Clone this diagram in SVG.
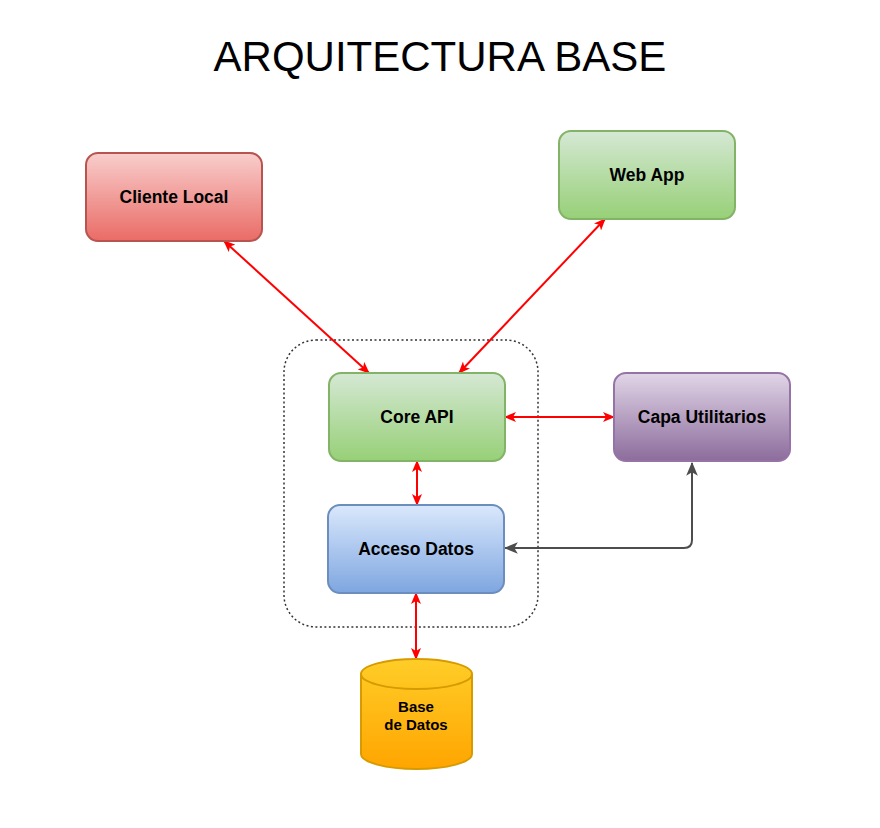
<svg xmlns="http://www.w3.org/2000/svg" width="880" height="828" viewBox="0 0 880 828">
<style>
.lbl{font-family:"Liberation Sans",Arial,sans-serif;font-weight:bold;font-size:17.5px;fill:#000;text-anchor:middle}
.sm{font-size:15px}
.title{font-family:"Liberation Sans",Arial,sans-serif;font-size:42px;fill:#000;text-anchor:middle}
.red{stroke:#ff0000;stroke-width:2;fill:none}
.gray{stroke:#4d4d4d;stroke-width:2;fill:none}
</style>
<defs>
<linearGradient id="gRed" x1="0" y1="0" x2="0" y2="1"><stop offset="0" stop-color="#f8cecc"/><stop offset="1" stop-color="#ea6b66"/></linearGradient>
<linearGradient id="gGreen" x1="0" y1="0" x2="0" y2="1"><stop offset="0" stop-color="#d5e8d4"/><stop offset="1" stop-color="#97d077"/></linearGradient>
<linearGradient id="gBlue" x1="0" y1="0" x2="0" y2="1"><stop offset="0" stop-color="#dae8fc"/><stop offset="1" stop-color="#7ea6e0"/></linearGradient>
<linearGradient id="gPurple" x1="0" y1="0" x2="0" y2="1"><stop offset="0" stop-color="#e1d5e7"/><stop offset="1" stop-color="#8c6c9c"/></linearGradient>
<linearGradient id="gYellow" x1="0" y1="0" x2="0" y2="1"><stop offset="0" stop-color="#ffcd28"/><stop offset="1" stop-color="#ffa500"/></linearGradient>
<marker id="aR" viewBox="0 0 12 10" refX="11" refY="5" markerWidth="12" markerHeight="10" markerUnits="userSpaceOnUse" orient="auto-start-reverse"><path d="M0,0 L12,5 L0,10 L3,5 Z" fill="#ff0000"/></marker>
<marker id="aG" viewBox="0 0 12 10" refX="11" refY="5" markerWidth="14" markerHeight="12" markerUnits="userSpaceOnUse" orient="auto-start-reverse"><path d="M0,0 L12,5 L0,10 L3,5 Z" fill="#4d4d4d"/></marker>
</defs>
<rect width="880" height="828" fill="#ffffff"/>
<text class="title" x="440" y="71">ARQUITECTURA BASE</text>
<g id="container"><rect x="284" y="340" width="254" height="287" rx="32" fill="none" stroke="#333333" stroke-width="1.5" stroke-dasharray="2 2.5"/></g>
<g id="connectors">
<path class="red" d="M224,241 L369,373" marker-start="url(#aR)" marker-end="url(#aR)"/>
<path class="red" d="M605,219 L459,373" marker-start="url(#aR)" marker-end="url(#aR)"/>
<path class="red" d="M505,417 L614,417" marker-start="url(#aR)" marker-end="url(#aR)"/>
<path class="red" d="M417,461 L417,505" marker-start="url(#aR)" marker-end="url(#aR)"/>
<path class="red" d="M416,593 L416,659" marker-start="url(#aR)" marker-end="url(#aR)"/>
<path class="gray" d="M692,463 L692,540 Q692,548 684,548 L505,548" marker-start="url(#aG)" marker-end="url(#aG)"/>
</g>
<g id="cliente"><rect x="86" y="153" width="176" height="88" rx="12" fill="url(#gRed)" stroke="#b85450" stroke-width="2"/><text class="lbl" x="174" y="203">Cliente Local</text></g>
<g id="webapp"><rect x="559" y="131" width="176" height="88" rx="12" fill="url(#gGreen)" stroke="#82b366" stroke-width="2"/><text class="lbl" x="647" y="181">Web App</text></g>
<g id="core"><rect x="329" y="373" width="176" height="88" rx="12" fill="url(#gGreen)" stroke="#82b366" stroke-width="2"/><text class="lbl" x="417" y="423">Core API</text></g>
<g id="capa"><rect x="614" y="373" width="176" height="88" rx="12" fill="url(#gPurple)" stroke="#9673a6" stroke-width="2"/><text class="lbl" x="702" y="423">Capa Utilitarios</text></g>
<g id="acceso"><rect x="328" y="505" width="176" height="88" rx="12" fill="url(#gBlue)" stroke="#6c8ebf" stroke-width="2"/><text class="lbl" x="416" y="555">Acceso Datos</text></g>
<g id="basedatos">
<path d="M361,674 A55.5,15 0 0 1 472,674 L472,754 A55.5,15 0 0 1 361,754 Z" fill="url(#gYellow)" stroke="#d79b00" stroke-width="2"/>
<path d="M361,674 A55.5,15 0 0 0 472,674" fill="none" stroke="#d79b00" stroke-width="2"/>
<text class="lbl sm" x="416" y="712">Base</text>
<text class="lbl sm" x="416" y="730">de Datos</text>
</g>
</svg>
